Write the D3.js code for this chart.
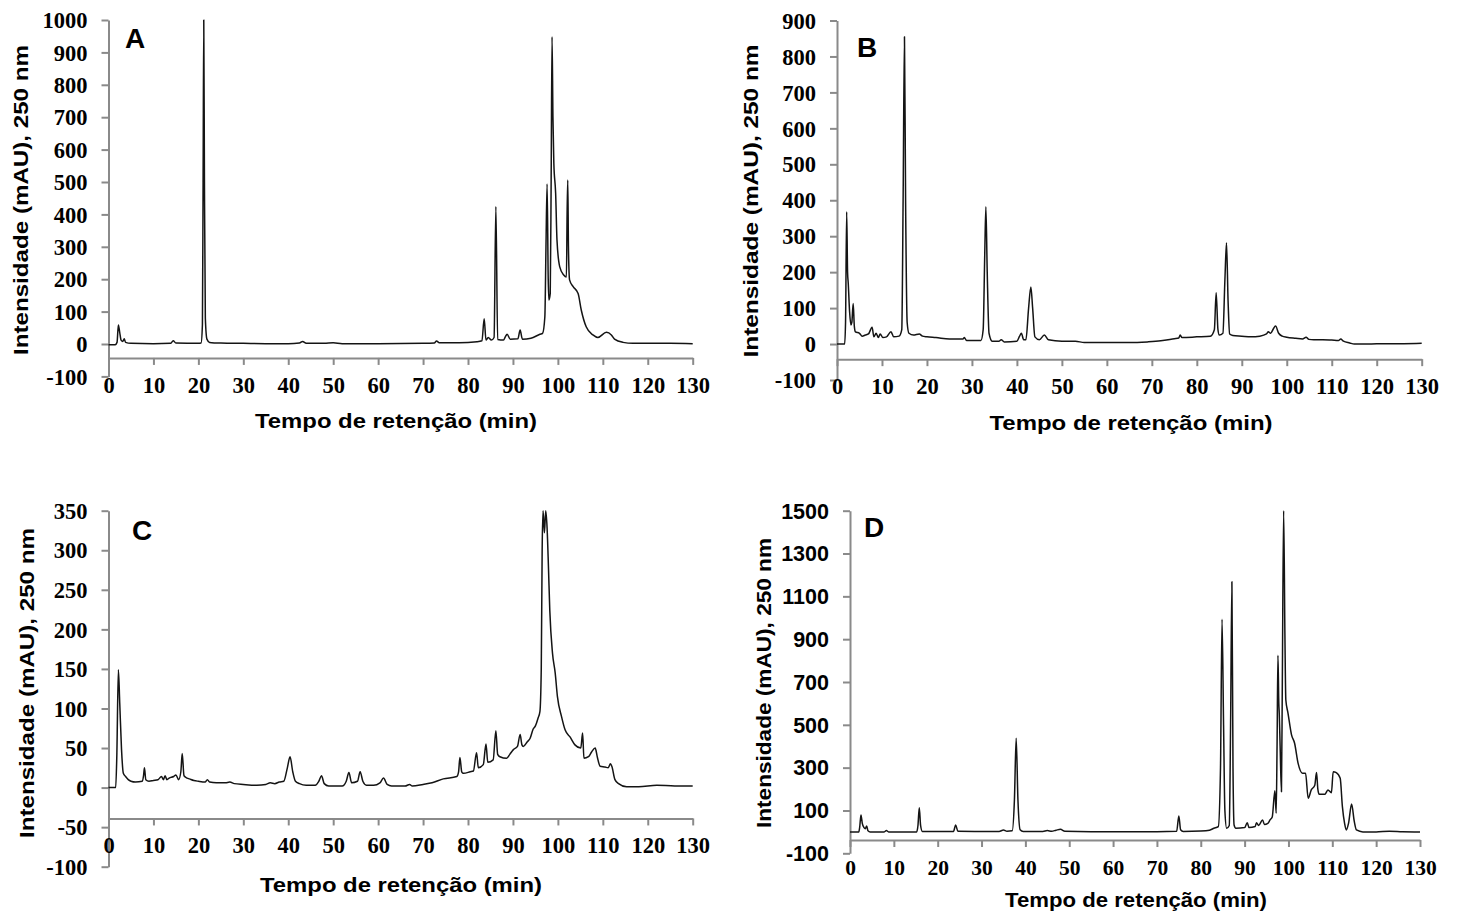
<!DOCTYPE html>
<html>
<head>
<meta charset="utf-8">
<script src="https://cdn.jsdelivr.net/npm/d3@7"></script>
<style>
  body { margin: 0; background: #fff; }
  svg { display: block; }
</style>
</head>
<body>
<svg id="fig" width="1457" height="913"></svg>
<script>
// Retention-time ticks shared by all four chromatograms (min)
const timeTicks = d3.range(0, 131, 10);

// Intensity ticks (mAU) for each chromatogram
const ticksA = d3.range(-100, 1001, 100);
const ticksB = d3.range(-100, 901, 100);
const ticksC = d3.range(-100, 351, 50);
const ticksD = d3.range(-100, 1501, 200);

// Chromatogram A: [retention time (min), intensity (mAU)]
const traceA = [
  [0,-2],[1.5,-2],[1.9,5],[2.2,59],[2.5,35],[2.8,12],[3.2,8],[3.5,16],[3.8,5],[5,2],[10,1],
  [13.8,2],[14.4,10],[15,3],[20,2],[20.6,3],[20.9,60],[21.05,500],[21.2,1000],[21.35,500],
  [21.55,80],[21.9,15],[22.5,5],[25,3],[30,2],[35,1],[40,1],[42.5,3],[43.2,8],[44,2],[48,2],
  [50,4],[52,1],[60,1],[70,2],[72.5,3],[73,9],[73.6,4],[78,4],[82,7],[83.1,10],[83.6,78],
  [84,12],[84.5,20],[85.2,12],[85.8,20],[86.2,424],[86.6,14],[87.9,12],[88.3,22],[88.7,30],
  [89.4,15],[91.1,16],[91.6,43],[92.1,15],[94,18],[96,30],[96.6,33],[97.1,84],[97.35,300],
  [97.6,494],[97.85,200],[98.0,136],[98.3,156],[98.5,500],[98.7,948],[98.9,700],[99.1,558],
  [99.5,465],[99.8,321],[100.4,239],[101.3,213],[101.9,207],[102.05,400],[102.2,506],
  [102.35,300],[102.6,198],[103.4,177],[104.5,156],[105.2,105],[106.3,53],[107.8,28],
  [108.9,20],[110.8,36],[111.9,28],[112.6,15],[114.5,5],[116.7,2],[120,2],[125,2],[130,1]
];

// Chromatogram B
const traceB = [
  [0,0],[1.7,0],[1.9,60],[2.15,368],[2.35,200],[2.5,169],[2.8,90],[3.1,53],[3.3,60],[3.6,113],
  [3.85,50],[4.1,34],[5,30],[5.6,22],[6.3,25],[7,28],[7.8,47],[8.2,20],[8.7,30],[9.2,18],
  [9.6,28],[10.2,18],[11,20],[12,34],[12.6,20],[13.8,22],[14.4,40],[14.7,400],[15,855],
  [15.25,400],[15.6,60],[16,30],[17,25],[18.3,28],[19,22],[20,20],[22,18],[25,14],[28,14],
  [28.3,18],[28.8,10],[30,10],[32,10],[32.5,40],[32.85,250],[33.1,382],[33.4,200],[33.8,30],
  [34.5,8],[36,8],[36.5,12],[37.2,6],[40,8],[40.6,22],[41,30],[41.5,12],[42,12],[42.6,100],
  [43.1,159],[43.5,100],[44,20],[45,12],[46.1,25],[47,12],[50,8],[53,8],[55,4],[60,4],[65,4],
  [69,6],[72,9],[75,15],[76,17],[76.3,25],[76.7,18],[80,20],[83,22],[83.9,40],[84.3,143],
  [84.7,40],[85,25],[85.8,30],[86.25,180],[86.6,282],[86.95,120],[87.3,28],[88,24],[90,22],
  [92,20],[94,22],[95.5,28],[95.9,34],[96.4,30],[97.0,42],[97.5,50],[98.2,30],[99,22],
  [100,19],[102,16],[103.5,14],[104.3,19],[104.9,13],[106,12],[108,12],[110,11],[111.5,10],
  [112,14],[112.6,8],[114,3],[115,0],[118,0],[122,1],[126,1],[130,2]
];

// Chromatogram C
const traceC = [
  [0,0],[1.6,0],[1.85,40],[2.2,149],[2.5,107],[2.9,48],[3.3,18],[3.8,14],[4.4,10],[5,8],[6,7],
  [7.5,8],[7.8,15],[8.0,25],[8.3,10],[9,8],[10,9],[11,10],[11.8,14],[12.2,10],[12.6,15],
  [13,10],[13.5,12],[14.5,14],[15,16],[15.6,10],[16.1,20],[16.4,43],[16.8,15],[17.5,12],
  [18,11],[19,9],[20,8],[21.5,7],[22,10],[22.5,7],[24,6],[26,6],[27,7],[28,5],[30,4],[33,3],
  [35,4],[36,6],[37,5],[38,7],[39,8],[39.8,25],[40.4,39],[41,20],[41.6,8],[42.5,5],[44,3],
  [46,3],[46.8,8],[47.4,15],[48,5],[49,2],[52,2],[52.9,8],[53.5,19],[54.1,6],[55.4,8],[56,20],
  [56.6,8],[57.4,3],[59,3],[60.4,6],[61.2,12],[62,4],[63,2],[66,2],[67,4],[67.6,2],[70,4],
  [72,6],[74.5,11],[77.5,14],[77.9,20],[78.2,38],[78.6,20],[79,18],[80.5,20],[81.2,21],
  [81.9,44],[82.3,25],[83.4,29],[84,55],[84.4,32],[85.6,35],[86.2,72],[86.6,42],[87.1,39],
  [88.6,37],[89.3,42],[90.1,48],[91,52],[91.6,67],[92,54],[92.3,52],[93.2,58],[93.8,62],
  [94.5,74],[95.0,78],[95.6,88],[96.0,96],[96.3,150],[96.5,300],[96.7,350],[97.0,322],
  [97.3,350],[97.6,328],[97.9,279],[98.2,224],[98.8,170],[99.4,145],[99.9,115],[100.8,90],
  [101.6,73],[102.7,64],[103.8,54],[105.1,50],[105.5,69],[105.8,37],[106.8,39],[107.5,45],
  [108.3,50],[108.8,38],[109.4,27],[110.5,26],[111.2,25],[111.7,30],[112,27],[112.7,10],
  [113.5,5],[115.3,1],[118,1],[122,3],[126,2],[130,2]
];

// Chromatogram D
const traceD = [
  [0,0],[2,0],[2.2,20],[2.5,79],[2.8,40],[3.2,20],[3.5,15],[3.8,28],[4.1,5],[4.6,0],[7.8,0],
  [8.3,6],[8.8,0],[15.2,0],[15.5,30],[15.8,113],[16.1,30],[16.5,2],[23.6,2],[24.1,32],
  [24.6,3],[34,2],[35,9],[35.8,3],[37,5],[37.5,150],[37.9,437],[38.3,150],[38.8,10],[39.5,2],
  [44,2],[45,6],[46,3],[47,8],[48,12],[49,3],[55,1],[60,1],[65,1],[70,1],[74.5,3],[75,74],
  [75.4,10],[76,2],[80,4],[82,8],[83,17],[84,25],[84.5,300],[84.85,993],[85.2,500],[85.5,100],
  [85.9,17],[86.5,30],[86.8,500],[87.1,1168],[87.35,300],[87.6,32],[88,17],[90,20],[90.6,43],
  [91,20],[92.4,25],[92.7,43],[93.2,30],[94.1,56],[94.5,35],[95.3,40],[95.8,56],[96.3,70],
  [96.9,192],[97.2,87],[97.4,400],[97.6,825],[97.8,600],[97.9,554],[98.1,400],[98.4,188],
  [98.6,700],[98.9,1500],[99.2,900],[99.4,616],[99.9,554],[100.7,453],[101.4,414],[102.2,320],
  [103.2,274],[103.9,274],[104.5,157],[105.2,196],[106.0,218],[106.4,277],[106.7,200],
  [107.0,176],[108.3,176],[109.0,196],[109.8,183],[110.2,281],[110.9,277],[111.8,250],
  [112.3,118],[112.8,40],[113.2,9],[113.7,40],[114.4,130],[115,50],[115.5,9],[117,0],[120,0],
  [123,3],[126,1],[130,0]
];

// Panel letters and axis titles
const panelLetters = ["A", "B", "C", "D"];
const xTitle = "Tempo de retenção (min)";
const yTitle = "Intensidade (mAU), 250 nm";

// Layout for each panel (pixels) and the intensity where the time axis crosses
const layouts = [
  { trace: traceA, yTicks: ticksA, cross: -43, yFont: "serif",
    x0: 108.5, x1: 692.7, yTop: 20, yBot: 376.4,
    xt: { cx: 396, base: 428, len: 282 }, yt: { bx: 28, cy: 200, len: 310 },
    lt: { x: 125, base: 48 }, xLabSize: 22.5 },
  { trace: traceB, yTicks: ticksB, cross: -42, yFont: "serif",
    x0: 837, x1: 1421.7, yTop: 20.5, yBot: 380,
    xt: { cx: 1131, base: 430, len: 283 }, yt: { bx: 758, cy: 201, len: 313 },
    lt: { x: 857, base: 57 }, xLabSize: 22.5 },
  { trace: traceC, yTicks: ticksC, cross: -39, yFont: "serif",
    x0: 108.5, x1: 692.7, yTop: 510.7, yBot: 866.7,
    xt: { cx: 401, base: 892, len: 282 }, yt: { bx: 34, cy: 683, len: 310 },
    lt: { x: 132, base: 540 }, xLabSize: 22.5 },
  { trace: traceD, yTicks: ticksD, cross: -38, yFont: "sans",
    x0: 850, x1: 1420, yTop: 510.7, yBot: 853.3,
    xt: { cx: 1136, base: 907, len: 262 }, yt: { bx: 771, cy: 683, len: 290 },
    lt: { x: 864, base: 537 }, xLabSize: 21.5 }
];

const SERIF = "'Liberation Serif', 'Times New Roman', serif";
const SANS = "'Liberation Sans', Arial, sans-serif";
const AXIS_GREY = "#8a8a8a";
const plain = d => String(d);

const svg = d3.select("#fig");

layouts.forEach((p, i) => {
  const yMax = p.yTicks[p.yTicks.length - 1];
  const x = d3.scaleLinear().domain([0, 130]).range([p.x0, p.x1]);
  const y = d3.scaleLinear().domain([-100, yMax]).range([p.yBot, p.yTop]);
  const g = svg.append("g");

  // Intensity axis
  const yAxis = g.append("g")
    .attr("transform", `translate(${p.x0},0)`)
    .call(d3.axisLeft(y).tickValues(p.yTicks).tickFormat(plain)
      .tickSize(7).tickSizeOuter(0).tickPadding(14));
  yAxis.select(".domain").attr("stroke", AXIS_GREY).attr("stroke-width", 2);
  yAxis.selectAll(".tick line").attr("stroke", AXIS_GREY).attr("stroke-width", 2);
  yAxis.selectAll(".tick text")
    .attr("fill", "#000")
    .attr("dy", "0.34em")
    .style("font-family", p.yFont === "serif" ? SERIF : SANS)
    .style("font-weight", "bold")
    .style("font-size", p.yFont === "serif" ? "22.5px" : "21.5px");

  // Time axis
  const xAxis = g.append("g")
    .attr("transform", `translate(0,${y(p.cross)})`)
    .call(d3.axisBottom(x).tickValues(timeTicks).tickFormat(plain)
      .tickSize(7).tickSizeOuter(0));
  xAxis.select(".domain").attr("stroke", AXIS_GREY).attr("stroke-width", 2);
  xAxis.selectAll(".tick line").attr("stroke", AXIS_GREY).attr("stroke-width", 2);
  xAxis.selectAll(".tick text")
    .attr("fill", "#000")
    .attr("y", 35)
    .attr("dy", 0)
    .style("font-family", SERIF)
    .style("font-weight", "bold")
    .style("font-size", p.xLabSize + "px");

  // Chromatogram trace
  const line = d3.line()
    .x(d => x(d[0]))
    .y(d => y(d[1]))
    .curve(d3.curveMonotoneX);
  g.append("path")
    .datum(p.trace)
    .attr("d", line)
    .attr("fill", "none")
    .attr("stroke", "#141414")
    .attr("stroke-width", 1.5)
    .attr("stroke-linejoin", "round");

  // Axis titles
  g.append("text")
    .attr("x", p.xt.cx)
    .attr("y", p.xt.base)
    .attr("text-anchor", "middle")
    .attr("textLength", p.xt.len)
    .attr("lengthAdjust", "spacingAndGlyphs")
    .style("font-family", SANS)
    .style("font-weight", "bold")
    .style("font-size", "20px")
    .text(xTitle);

  g.append("text")
    .attr("transform", `translate(${p.yt.bx},${p.yt.cy}) rotate(-90)`)
    .attr("text-anchor", "middle")
    .attr("textLength", p.yt.len)
    .attr("lengthAdjust", "spacingAndGlyphs")
    .style("font-family", SANS)
    .style("font-weight", "bold")
    .style("font-size", "21px")
    .text(yTitle);

  // Panel letter
  g.append("text")
    .attr("x", p.lt.x)
    .attr("y", p.lt.base)
    .style("font-family", SANS)
    .style("font-weight", "bold")
    .style("font-size", "28px")
    .text(panelLetters[i]);
});
</script>
</body>
</html>
